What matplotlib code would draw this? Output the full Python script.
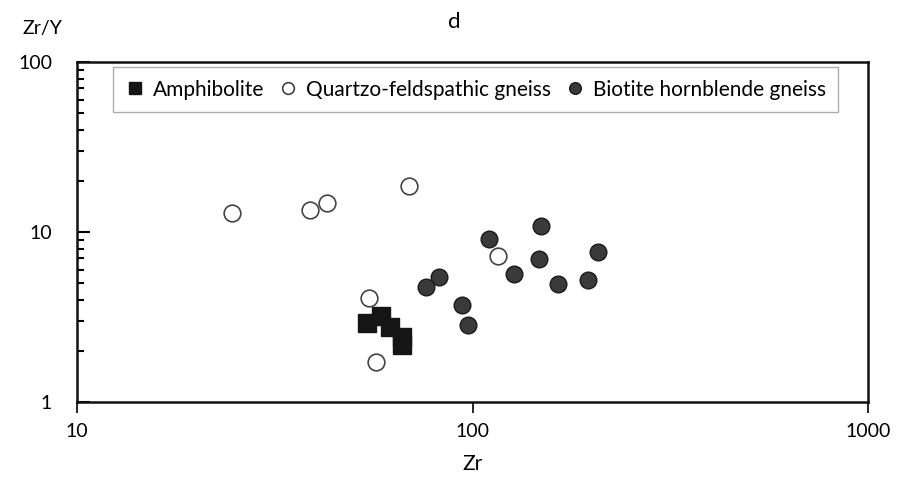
import matplotlib.pyplot as plt
from matplotlib.ticker import LogLocator, NullFormatter, FixedFormatter, FixedLocator

plt.rcParams['font.family'] = ['Lato', 'DejaVu Sans']

# Amphibolite
amph_zr = [54, 58.7, 61.8, 66.2, 66.2]
amph_zry = [2.93, 3.22, 2.77, 2.42, 2.16]

# Quartzo-feldspathic gneiss
qf_zr = [24.7, 38.8, 42.8, 69.1, 116, 54.8, 57]
qf_zry = [12.9, 13.5, 14.9, 18.6, 7.25, 4.09, 1.72]

# Biotite hornblende gneiss
bh_zr = [110, 149, 208, 147, 127, 164, 196, 82.3, 76.4, 94.1, 97.2]
bh_zry = [9.06, 10.85, 7.6, 6.9, 5.64, 4.92, 5.24, 5.41, 4.73, 3.71, 2.85]

x_ticks = [10, 100, 1000]
x_ticklabels = ['10', '100', '1000']
y_ticks = [1, 10, 100]
y_ticklabels = ['1', '10', '100']

fig = plt.figure(figsize=(9.03, 4.78), dpi=100)
ax = fig.add_axes([0.0853, 0.159, 0.876, 0.711])

ax.plot(amph_zr, amph_zry, 's', color='#151515', markersize=12.5, linestyle='none',
        label='Amphibolite')
ax.plot(qf_zr, qf_zry, 'o', markerfacecolor='white', markeredgecolor='#444444',
        markeredgewidth=1.2, markersize=12, linestyle='none',
        label='Quartzo-feldspathic gneiss')
ax.plot(bh_zr, bh_zry, 'o', markerfacecolor='#3a3a3a', markeredgecolor='#1a1a1a',
        markersize=12, linestyle='none', label='Biotite hornblende gneiss')

ax.set_xscale('log')
ax.set_yscale('log')
ax.set_xlim(10, 1000)
ax.set_ylim(1, 100)

ax.xaxis.set_major_locator(FixedLocator(x_ticks))
ax.xaxis.set_major_formatter(FixedFormatter(x_ticklabels))
ax.xaxis.set_minor_locator(FixedLocator([]))
ax.yaxis.set_major_locator(FixedLocator(y_ticks))
ax.yaxis.set_major_formatter(FixedFormatter(y_ticklabels))
ax.yaxis.set_minor_locator(LogLocator(base=10, subs=range(2, 10)))
ax.yaxis.set_minor_formatter(NullFormatter())

ax.tick_params(axis='x', direction='out', length=8, width=1.2, labelsize=14, pad=7)
ax.tick_params(axis='y', which='major', direction='in', length=9, width=1.5,
               labelsize=14, pad=18)
ax.tick_params(axis='y', which='minor', direction='in', length=5, width=1.5)
ax.tick_params(top=False, right=False)

for s in ax.spines.values():
    s.set_linewidth(1.8)
    s.set_color('#111111')

fig.text(0.503, 0.955, 'd', ha='center', va='center', fontsize=16)
fig.text(0.047, 0.94, 'Zr/Y', ha='center', va='center', fontsize=14)
ax.set_xlabel('Zr', fontsize=15, labelpad=10)

leg = ax.legend(loc='upper left', bbox_to_anchor=(0.046, 0.985), ncol=3,
                fontsize=15, frameon=True, fancybox=False, handletextpad=0.4,
                columnspacing=0.7, borderpad=0.6, handlelength=0.9, markerscale=0.7,
                borderaxespad=0)
leg.get_frame().set_edgecolor('#999999')
leg.get_frame().set_linewidth(1.0)

fig.savefig('out.png', dpi=100)
